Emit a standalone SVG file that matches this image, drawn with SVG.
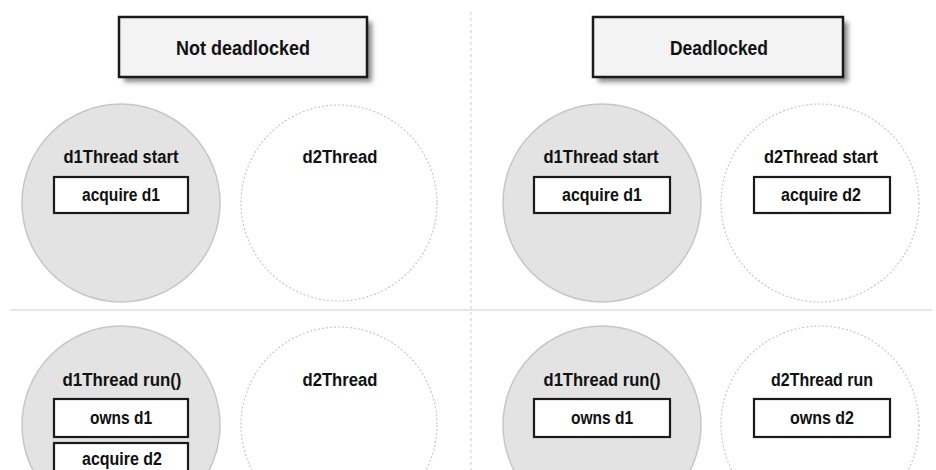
<svg xmlns="http://www.w3.org/2000/svg" width="936" height="470" viewBox="0 0 936 470">
<defs>
<style>
.t{font-family:"Liberation Sans Narrow","Liberation Sans",Arial,sans-serif;font-weight:bold;fill:#111;text-anchor:middle}
.lbl{font-size:18px}
.ttl{font-size:21px}
.gc{fill:#e3e3e3;stroke:#c6c6c6;stroke-width:1.5}
.dc{fill:#fff;stroke:#c8c8c8;stroke-width:1.2;stroke-dasharray:2 2}
.box{fill:#fff;stroke:#1a1a1a;stroke-width:2.2}
.tbox{fill:#f3f3f3;stroke:#1a1a1a;stroke-width:2.5}
.div{stroke:#dedede;stroke-width:1.5;fill:none}
</style>
<filter id="sh" x="-10%" y="-20%" width="130%" height="160%">
<feGaussianBlur stdDeviation="2.5"/>
</filter>
</defs>
<rect width="936" height="470" fill="#fff"/>
<g id="dividers">
<line class="div" x1="10" y1="310" x2="932" y2="310"/>
<line class="div" x1="471" y1="12" x2="471" y2="470" stroke-dasharray="3 3"/>
</g>
<g id="title-left">
<rect x="124" y="22" width="248" height="60" fill="#888" filter="url(#sh)"/>
<rect class="tbox" x="119" y="17" width="248" height="60"/>
<text class="t ttl" x="243" y="55" textLength="134" lengthAdjust="spacingAndGlyphs">Not deadlocked</text>
</g>
<g id="title-right">
<rect x="598" y="22" width="250" height="60" fill="#888" filter="url(#sh)"/>
<rect class="tbox" x="593" y="17" width="250" height="60"/>
<text class="t ttl" x="719" y="55" textLength="98" lengthAdjust="spacingAndGlyphs">Deadlocked</text>
</g>
<g id="tl-d1">
<circle class="gc" cx="121" cy="203" r="99"/>
<text class="t lbl" x="121" y="163" textLength="115" lengthAdjust="spacingAndGlyphs">d1Thread start</text>
<rect class="box" x="54" y="177" width="134" height="36"/>
<text class="t lbl" x="121" y="201" textLength="78" lengthAdjust="spacingAndGlyphs">acquire d1</text>
</g>
<g id="tl-d2">
<circle class="dc" cx="339" cy="203" r="98"/>
<text class="t lbl" x="340" y="163" textLength="75" lengthAdjust="spacingAndGlyphs">d2Thread</text>
</g>
<g id="tr-d1">
<circle class="gc" cx="602" cy="203" r="99"/>
<text class="t lbl" x="601" y="163" textLength="115" lengthAdjust="spacingAndGlyphs">d1Thread start</text>
<rect class="box" x="534" y="177" width="136" height="36"/>
<text class="t lbl" x="602" y="201" textLength="80" lengthAdjust="spacingAndGlyphs">acquire d1</text>
</g>
<g id="tr-d2">
<circle class="dc" cx="820" cy="203" r="99"/>
<text class="t lbl" x="821" y="163" textLength="114" lengthAdjust="spacingAndGlyphs">d2Thread start</text>
<rect class="box" x="754" y="177" width="136" height="36"/>
<text class="t lbl" x="821" y="201" textLength="80" lengthAdjust="spacingAndGlyphs">acquire d2</text>
</g>
<g id="bl-d1">
<circle class="gc" cx="121" cy="425" r="99"/>
<text class="t lbl" x="122" y="386" textLength="119" lengthAdjust="spacingAndGlyphs">d1Thread  run()</text>
<rect class="box" x="54" y="399" width="134" height="38"/>
<text class="t lbl" x="121" y="424" textLength="62" lengthAdjust="spacingAndGlyphs">owns d1</text>
<rect class="box" x="54" y="443" width="134" height="38"/>
<text class="t lbl" x="122" y="465" textLength="80" lengthAdjust="spacingAndGlyphs">acquire d2</text>
</g>
<g id="bl-d2">
<circle class="dc" cx="339" cy="425" r="98"/>
<text class="t lbl" x="340" y="386" textLength="75" lengthAdjust="spacingAndGlyphs">d2Thread</text>
</g>
<g id="br-d1">
<circle class="gc" cx="602" cy="425" r="99"/>
<text class="t lbl" x="602" y="386" textLength="117" lengthAdjust="spacingAndGlyphs">d1Thread run()</text>
<rect class="box" x="534" y="399" width="136" height="38"/>
<text class="t lbl" x="602" y="424" textLength="62" lengthAdjust="spacingAndGlyphs">owns d1</text>
</g>
<g id="br-d2">
<circle class="dc" cx="820" cy="425" r="99"/>
<text class="t lbl" x="822" y="386" textLength="102" lengthAdjust="spacingAndGlyphs">d2Thread run</text>
<rect class="box" x="754" y="399" width="136" height="38"/>
<text class="t lbl" x="822" y="424" textLength="64" lengthAdjust="spacingAndGlyphs">owns d2</text>
</g>
</svg>
